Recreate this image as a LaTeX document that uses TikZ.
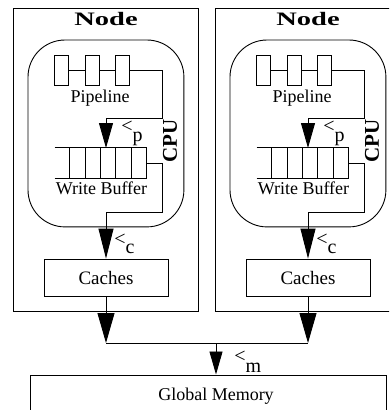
\documentclass[tikz,border=0pt]{standalone}
\usepackage{fontspec}
\setmainfont{Liberation Serif}
\usetikzlibrary{arrows.meta}
\begin{document}
\begin{tikzpicture}[x=1pt,y=-1pt,
  line width=0.9pt,
  txt/.style={font=\fontsize{18}{20}\selectfont, inner sep=0pt},
  boxline/.style={draw, inner sep=0pt},
  pbox/.style={boxline, minimum width=14pt, minimum height=30pt},
  parrow/.style={-{Triangle[length=25pt,width=14pt]}},
  carrow/.style={-{Triangle[length=30pt,width=15pt]}},
  barrow/.style={-{Triangle[length=30pt,width=17pt]}},
  marrow/.style={-{Triangle[length=23pt,width=13pt]}},
  lt/.style={txt, font=\fontsize{20}{21}\selectfont},
]
\useasboundingbox (0,0) rectangle (389,410);
\clip (0,0) rectangle (389,410);

\foreach \s/\dx in {L/0,R/202}{
\begin{scope}[xshift=\dx]
  % node box
  \node[boxline, anchor=north west, minimum width=185pt, minimum height=303pt] (box\s) at (13,8) {};
  \node[txt, anchor=base, font=\fontsize{19}{20}\selectfont\bfseries] (title\s) at (106,25) {\scalebox{1.5}[1]{Node}};
  % CPU
  \node[inner sep=0pt, anchor=north west, minimum width=155pt, minimum height=186pt] (cpu\s) at (28,40) {};
  \draw[rounded corners=37pt] (cpu\s.north west) -- (cpu\s.north east) -- (cpu\s.south east) -- (cpu\s.south west) -- cycle;
  \node[txt, rotate=90, font=\fontsize{21}{22}\selectfont\bfseries] (cpulab\s) at (170,141) {CPU};
  % pipeline
  \node[pbox] (pa\s) at (61.5,70.5) {};
  \node[pbox] (pb\s) at (92,70.5) {};
  \node[pbox] (pc\s) at (122.5,70.5) {};
  \node[txt, anchor=base] (plab\s) at (100,102) {Pipeline};
  \draw (pa\s.east) -- (pb\s.west);
  \draw (pb\s.east) -- (pc\s.west);
  % write buffer
  \node[inner sep=0pt, minimum width=92pt, minimum height=30pt] (buf\s) at (101,163) {};
  \draw (buf\s.north west) -- (buf\s.north east);
  \draw (buf\s.south west) -- (buf\s.south east);
  \foreach \k in {0,...,5}{
    \draw ([xshift={15+\k*15.4}]buf\s.north west) -- ([xshift={15+\k*15.4}]buf\s.south west);
  }
  \node[txt, anchor=base] (blab\s) at (101.5,194) {Write Buffer};
  % connectors inside
  \coordinate (cr\s) at (162,118);
  \coordinate (bin\s) at (106,148);
  \draw[parrow] (pc\s.east) -| (cr\s) -| (bin\s);
  \node[lt, anchor=base west] (lp\s) at (121,132) {<\raisebox{-9pt}{p}};
  \coordinate (co\s) at (162,212);
  % caches
  \node[boxline, minimum width=124pt, minimum height=37pt, font=\fontsize{19}{20}\selectfont] (cache\s) at (106,277.5) {Caches};
  \draw[carrow] (buf\s.east) -| (co\s) -| (cache\s.north);
  \node[lt, anchor=base west] (lc\s) at (114,245) {<\raisebox{-8pt}{c}};
  \coordinate (j\s) at (106,343);
  \draw[barrow] (cache\s.south) -- (j\s);
\end{scope}
}
\draw (jL) -- (jR);
% global memory
\node[boxline, anchor=north west, minimum width=356pt, minimum height=60pt] (mem) at (30,374.5) {};
\node[txt, anchor=base] (memlab) at (216,400) {Global Memory};
\coordinate (mj) at (216,343);
\draw[marrow] (mj) -- (mj |- mem.north);
\node[lt, anchor=base west] (lm) at (234,362) {<\raisebox{-10pt}{m}};
\end{tikzpicture}
\end{document}
